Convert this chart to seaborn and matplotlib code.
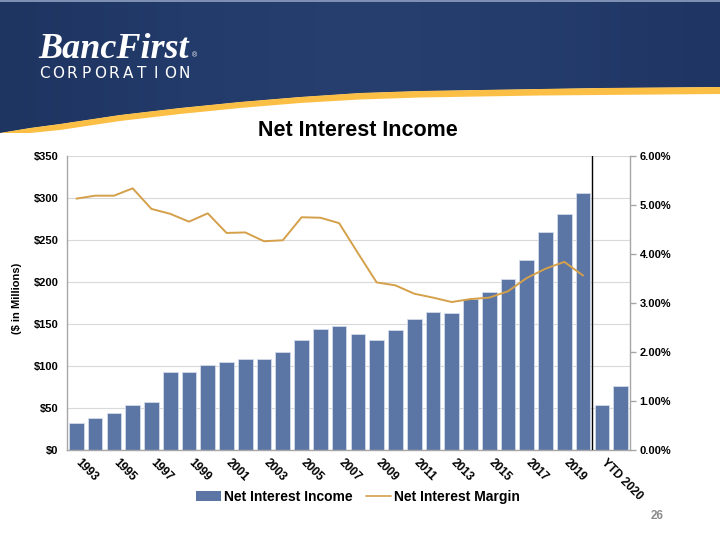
import numpy as np
import pandas as pd
import matplotlib
matplotlib.use("Agg")
import matplotlib.pyplot as plt
import matplotlib.transforms as mtransforms
import seaborn as sns
from matplotlib.patches import Patch, Polygon, Rectangle
from matplotlib.lines import Line2D
from matplotlib.colors import LinearSegmentedColormap

# ---------------- data ----------------
categories = ["1993", "1994", "1995", "1996", "1997", "1998", "1999", "2000",
              "2001", "2002", "2003", "2004", "2005", "2006", "2007", "2008",
              "2009", "2010", "2011", "2012", "2013", "2014", "2015", "2016",
              "2017", "2018", "2019", "2020", "YTD 2020", "YTD 2021"]
net_interest_income = [32.5, 38.4, 43.6, 53.5, 57.5, 92.7, 92.7, 101.5,
                       104.6, 108.2, 108.2, 116.5, 130.8, 143.5, 147.4, 138.5,
                       130.4, 142.3, 156.2, 164.1, 163.3, 180.3, 188.3, 203.3,
                       226.3, 259.2, 281.4, 306.4, 53.1, 76.1]
net_interest_margin = [5.13, 5.19, 5.19, 5.34, 4.92, 4.82, 4.66, 4.83,
                       4.43, 4.44, 4.26, 4.28, 4.75, 4.74, 4.63, 4.02,
                       3.42, 3.36, 3.19, 3.11, 3.02, 3.08, 3.11, 3.24,
                       3.51, 3.70, 3.84, 3.56]
left_ticks = [0, 50, 100, 150, 200, 250, 300, 350]
right_ticks = [0, 1, 2, 3, 4, 5, 6]

BAR = "#5b76a5"
LINE = "#d4a04a"

sns.set_style("white")
plt.rcParams['font.family'] = ['Liberation Sans', 'DejaVu Sans']
plt.rcParams['text.color'] = 'black'
plt.rcParams['xtick.color'] = 'black'
plt.rcParams['ytick.color'] = 'black'
plt.rcParams['legend.labelcolor'] = 'black'

fig = plt.figure(figsize=(7.2, 5.4), dpi=100)

# ---------------- header background ----------------
bg = fig.add_axes([0, 0, 1, 1], zorder=0)
bg.set_xlim(0, 720)
bg.set_ylim(540, 0)
bg.axis("off")

cx = np.array([0, 30, 60, 120, 180, 240, 300, 360, 420, 480, 540, 600, 660, 720])
navy_y = np.array([133, 128, 124, 115, 108, 102, 97, 93, 91, 90, 89, 88, 87.5, 87])
yel_y = np.array([133, 133, 130, 121, 114, 108, 103, 99.5, 97.5, 96.5, 95.5, 95, 94.5, 94])

navy_poly = Polygon(np.vstack([[[0, 0], [720, 0]], np.column_stack([cx, navy_y])[::-1]]),
                    closed=True, facecolor="#243c6c", edgecolor="none")
bg.add_patch(navy_poly)
grad_cmap = LinearSegmentedColormap.from_list(
    "hdr", ["#1e3461", "#233b6a", "#273f6f", "#243c6c", "#1f3563"])
grad = np.linspace(0, 1, 256)[None, :]
im = bg.imshow(grad, cmap=grad_cmap, extent=[0, 720, 140, 0], aspect="auto", zorder=1)
im.set_clip_path(navy_poly)
bg.add_patch(Rectangle((0, 0), 720, 2, facecolor="#7d90b4", edgecolor="none", zorder=2))
bg.fill_between(cx, navy_y, yel_y, color="#fbbf45", lw=0, zorder=2)

bg.text(38, 58, "BancFirst", family=["Liberation Serif", "DejaVu Serif"], style="italic",
        weight="bold", fontsize=26, color="white", va="baseline", ha="left", zorder=3)
bg.text(192, 57, "®", fontsize=5, color="white", va="baseline", ha="left", zorder=3)
corp = "CORPORATION"
for i, ch in enumerate(corp):
    bg.text(44 + i * 14.0, 77.5, ch, family=["DejaVu Sans"],
            fontsize=11, color="white", va="baseline", ha="center", zorder=3)

# ---------------- chart ----------------
ax = fig.add_axes([67 / 720, 1 - 450 / 540, (630 - 67) / 720, (450 - 156) / 540], zorder=2)
ax.patch.set_visible(False)
df = pd.DataFrame({"category": categories, "nii": net_interest_income})
sns.barplot(data=df, x="category", y="nii", order=categories, color=BAR, saturation=1,
            width=0.78, edgecolor="#d2dbea", linewidth=0.6, ax=ax, zorder=2)
ax.set_ylim(0, 350)
ax.set_yticks(left_ticks)
ax.set_yticklabels([f"${v}" for v in left_ticks], fontweight="bold", fontsize=8)
ax.yaxis.grid(True, color="#d9d9d9", lw=0.8)
ax.set_axisbelow(True)
ax.tick_params(axis="y", length=0, pad=6)
ax.set_xlabel("")
ax.set_ylabel("")
ax.set_xticks(range(len(categories)))
ax.set_xticklabels([c if i % 2 == 0 else "" for i, c in enumerate(categories)],
                   rotation=-45, ha="left", va="top", rotation_mode="anchor",
                   fontweight="bold", fontsize=8.5)
ax.tick_params(axis="x", length=0, pad=5)
shift = mtransforms.ScaledTranslation(4 / 72, 0, fig.dpi_scale_trans)
for lab in ax.get_xticklabels():
    lab.set_transform(lab.get_transform() + shift)
for s in ["top", "right"]:
    ax.spines[s].set_visible(False)
for s in ["left", "bottom"]:
    ax.spines[s].set_color("#a6a6a6")
    ax.spines[s].set_linewidth(1)
ax.axvline(len(net_interest_margin) - 0.5, color="black", lw=1, zorder=3)

ax2 = ax.twinx()
ax2.set_zorder(3)
sns.lineplot(x=np.arange(len(net_interest_margin)), y=net_interest_margin, ax=ax2,
             color=LINE, lw=1.4)
ax2.set_ylim(0, 6)
ax2.set_yticks(right_ticks)
ax2.set_yticklabels([f"{v:.2f}%" for v in right_ticks], fontweight="bold", fontsize=8)
ax2.tick_params(axis="y", length=4, width=1, color="#a6a6a6", labelcolor="black",
                pad=3, direction="out")
for s in ["top", "left", "bottom"]:
    ax2.spines[s].set_visible(False)
ax2.spines["right"].set_color("#a6a6a6")
ax2.spines["right"].set_linewidth(1)
ax2.set_ylabel("")
ax.set_xlim(-0.5, len(categories) - 0.5)

# ---------------- texts ----------------
fig.text(358 / 720, 1 - 130 / 540, "Net Interest Income", ha="center", va="center",
         fontsize=15.5, fontweight="bold", color="black")
fig.text(17 / 720, 1 - 298 / 540, "($ in Millions)", rotation=90, ha="center",
         va="center", fontsize=8, fontweight="bold", color="black")
fig.text(657 / 720, 1 - 516 / 540, "26", ha="center", va="center", fontsize=8.5,
         fontweight="bold", color="#8c8c8c")

handles = [Patch(facecolor=BAR, edgecolor="none"), Line2D([], [], color=LINE, lw=1.2)]
fig.legend(handles=handles, labels=["Net Interest Income", "Net Interest Margin"],
           loc="center", bbox_to_anchor=(358 / 720, 1 - 497 / 540), ncol=2,
           frameon=False, prop={"weight": "bold", "size": 10}, handlelength=1.8,
           handleheight=0.7, handletextpad=0.2, columnspacing=1.0)

fig.savefig("out.png", dpi=100)
